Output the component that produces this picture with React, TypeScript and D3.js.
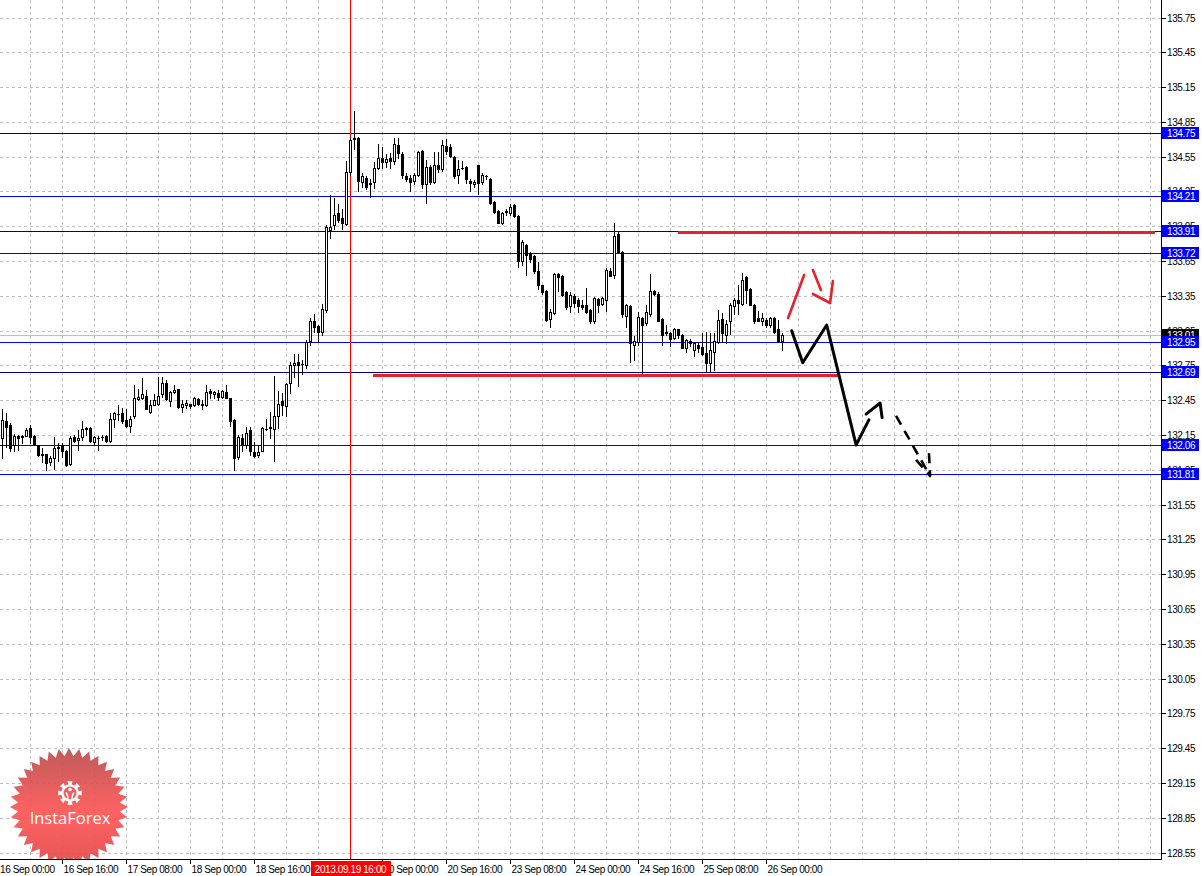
import React from "react";
import * as d3 from "d3";

const W = 1202;
const H = 876;
const AXIS_X = 1161;
const AXIS_Y = 859;

// H1 bars, bar 0 = 16 Sep 00:00; data starts at bar 1
const firstBar = 1;
const open = [
  132.12,132.27,132.24,132.06,132.14,132.13,132.14,132.21,132.14,132.06,
  131.99,131.99,131.92,131.95,132.05,132.06,132.01,131.90,132.13,132.11,
  132.13,132.21,132.21,132.09,132.12,132.13,132.14,132.10,132.29,132.33,
  132.34,132.28,132.23,132.31,132.46,132.47,132.49,132.35,132.41,132.42,
  132.50,132.60,132.44,132.52,132.55,132.39,132.41,132.42,132.41,132.46,
  132.42,132.41,132.53,132.50,132.51,132.48,132.52,132.47,132.28,131.96,
  132.12,132.06,132.19,132.00,131.98,132.01,132.20,132.21,132.20,132.31,
  132.44,132.40,132.60,132.75,132.78,132.76,132.75,132.96,133.13,133.09,
  133.04,133.23,133.92,133.96,134.06,134.02,133.97,134.42,134.70,134.71,
  134.33,134.37,134.31,134.33,134.45,134.54,134.50,134.54,134.51,134.65,
  134.57,134.38,134.37,134.34,134.39,134.60,134.31,134.46,134.33,134.48,
  134.44,134.64,134.63,134.55,134.39,134.45,134.46,134.34,134.31,134.48,
  134.33,134.38,134.36,134.16,134.08,133.98,134.07,134.06,134.13,134.04,
  133.65,133.79,133.71,133.69,133.56,133.44,133.39,133.15,133.20,133.54,
  133.52,133.38,133.26,133.35,133.31,133.27,133.27,133.23,133.13,133.32,
  133.28,133.31,133.56,133.53,133.88,133.73,133.18,133.26,132.93,132.95,
  133.16,133.12,133.19,133.39,133.37,133.15,133.04,133.03,132.99,133.06,
  133.01,132.90,132.96,132.88,132.93,132.91,132.86,132.77,132.87,132.95,
  133.15,133.01,133.13,133.26,133.31,133.28,133.51,133.41,133.27,133.16,
  133.13,133.14,133.10,133.16,133.06,132.96
];
const high = [
  132.37,132.34,132.25,132.16,132.15,132.15,132.21,132.24,132.15,132.06,
  132.04,131.99,131.97,132.13,132.08,132.08,132.02,132.14,132.15,132.19,
  132.27,132.22,132.22,132.14,132.14,132.15,132.15,132.34,132.35,132.41,
  132.38,132.37,132.31,132.58,132.55,132.64,132.54,132.45,132.50,132.65,
  132.65,132.62,132.53,132.58,132.55,132.45,132.45,132.42,132.48,132.47,
  132.45,132.58,132.55,132.53,132.54,132.54,132.58,132.47,132.29,132.15,
  132.16,132.22,132.22,132.09,132.06,132.22,132.29,132.35,132.66,132.53,
  132.51,132.60,132.78,132.85,132.85,132.80,132.97,133.16,133.19,133.10,
  133.28,133.96,134.22,134.19,134.14,134.10,134.51,134.72,134.94,134.72,
  134.41,134.38,134.36,134.50,134.66,134.63,134.57,134.58,134.71,134.71,
  134.59,134.41,134.39,134.41,134.60,134.61,134.52,134.48,134.59,134.59,
  134.69,134.70,134.66,134.56,134.52,134.51,134.47,134.36,134.35,134.48,
  134.41,134.39,134.37,134.17,134.09,134.07,134.10,134.14,134.14,134.05,
  133.83,133.80,133.73,133.70,133.64,133.44,133.40,133.24,133.55,133.55,
  133.53,133.39,133.38,133.37,133.33,133.31,133.42,133.24,133.34,133.33,
  133.34,133.59,133.59,133.98,133.90,133.74,133.28,133.27,133.00,133.21,
  133.17,133.27,133.54,133.40,133.38,133.16,133.10,133.04,133.07,133.06,
  133.02,132.98,132.98,132.95,132.95,133.03,133.04,133.03,133.03,133.23,
  133.20,133.14,133.29,133.33,133.44,133.55,133.52,133.42,133.28,133.22,
  133.20,133.16,133.17,133.17,133.14,133.03
];
const low = [
  131.95,132.05,132.01,132.01,132.02,132.08,132.14,132.08,132.06,131.97,
  131.92,131.85,131.89,131.86,131.93,131.96,131.88,131.89,132.09,132.02,
  132.11,132.15,132.09,132.07,132.02,132.11,132.09,132.09,132.22,132.28,
  132.25,132.22,132.18,132.30,132.45,132.46,132.37,132.34,132.41,132.41,
  132.48,132.45,132.40,132.51,132.38,132.35,132.38,132.38,132.40,132.41,
  132.37,132.40,132.47,132.47,132.45,132.47,132.47,132.23,131.85,131.94,
  132.01,132.04,131.98,131.96,131.96,132.01,132.19,132.12,131.93,132.21,
  132.32,132.31,132.51,132.65,132.57,132.68,132.73,132.93,133.04,132.95,
  133.01,133.21,133.85,133.93,133.99,133.93,133.96,134.39,134.62,134.25,
  134.29,134.27,134.20,134.28,134.44,134.45,134.46,134.45,134.49,134.54,
  134.37,134.34,134.25,134.31,134.38,134.28,134.15,134.31,134.32,134.42,
  134.43,134.57,134.55,134.37,134.32,134.44,134.32,134.25,134.29,134.23,
  134.31,134.36,134.14,134.06,133.98,133.97,134.05,134.05,134.03,133.60,
  133.62,133.53,133.64,133.55,133.41,133.37,133.13,133.08,133.19,133.39,
  133.35,133.24,133.21,133.25,133.21,133.24,133.20,133.12,133.12,133.21,
  133.27,133.22,133.52,133.50,133.73,133.17,133.08,132.78,132.80,132.93,
  132.68,133.10,133.18,133.36,133.13,132.93,133.01,132.92,132.98,132.99,
  132.90,132.87,132.92,132.83,132.87,132.84,132.69,132.70,132.71,132.94,
  132.95,132.94,133.02,133.19,133.19,133.27,133.29,133.27,133.12,133.13,
  133.10,133.08,133.08,133.03,132.95,132.88
];
const close = [
  132.28,132.22,132.04,132.14,132.12,132.14,132.19,132.13,132.07,131.98,
  131.98,131.91,131.95,132.04,132.04,132.01,131.89,132.12,132.10,132.12,
  132.20,132.20,132.10,132.13,132.12,132.13,132.10,132.29,132.34,132.33,
  132.27,132.23,132.29,132.47,132.48,132.50,132.37,132.41,132.45,132.49,
  132.60,132.46,132.52,132.54,132.39,132.42,132.43,132.40,132.47,132.42,
  132.41,132.52,132.51,132.52,132.48,132.53,132.47,132.27,131.95,132.13,
  132.06,132.17,132.01,131.97,132.00,132.21,132.20,132.22,132.31,132.42,
  132.41,132.59,132.75,132.77,132.75,132.76,132.95,133.13,133.08,133.04,
  133.24,133.94,133.94,134.05,134.00,133.98,134.42,134.69,134.71,134.34,
  134.38,134.29,134.32,134.45,134.54,134.50,134.53,134.51,134.66,134.58,
  134.39,134.36,134.33,134.39,134.59,134.31,134.46,134.33,134.48,134.44,
  134.65,134.60,134.56,134.38,134.44,134.45,134.36,134.32,134.33,134.32,
  134.39,134.38,134.15,134.07,133.98,134.06,134.08,134.12,134.04,133.65,
  133.81,133.70,133.67,133.56,133.44,133.38,133.14,133.21,133.54,133.51,
  133.36,133.25,133.36,133.29,133.26,133.25,133.21,133.13,133.33,133.27,
  133.33,133.57,133.52,133.87,133.73,133.19,133.27,132.94,132.96,133.17,
  133.10,133.21,133.39,133.37,133.13,133.01,133.03,132.98,133.06,133.01,
  132.90,132.97,132.94,132.94,132.90,132.85,132.77,132.88,132.96,133.14,
  133.03,133.11,133.27,133.31,133.29,133.49,133.40,133.27,133.13,133.13,
  133.16,133.10,133.16,133.04,132.96,133.01
];

const priceTicks = d3.range(25).map((i) => +(128.55 + 0.3 * i).toFixed(2));
const timeLabelBars = [0, 16, 32, 48, 64, 96, 112, 128, 144, 160, 176, 192];
const timeLabels = [
  "16 Sep 00:00", "16 Sep 16:00", "17 Sep 08:00", "18 Sep 00:00", "18 Sep 16:00",
  "20 Sep 00:00", "20 Sep 16:00", "23 Sep 08:00", "24 Sep 00:00",
  "24 Sep 16:00", "25 Sep 08:00", "26 Sep 00:00",
];
const markerBar = 88;
const markerLabel = "2013.09.19 16:00";

const levelPrices = [134.75, 134.21, 133.91, 133.72, 132.95, 132.69, 132.06, 131.81];
const levelColors = ["#00008c", "#0000ff", "#00008c", "#0000ff", "#0000ff", "#00008c", "#0000ff", "#0000ff"];

// thick red horizontal segments: [price, fromBar, toBar]
const redSegPrices = [133.898, 132.661];
const redSegFrom = [169.9, 93.7];
const redSegTo = [289.1, 209.9];

// hand-drawn forecast strokes as [bar, price]
const redStrokes: [number, number][][] = [
  [[197.4, 133.159], [201.4, 133.53]],
  [[203.6, 133.573], [205.6, 133.401]],
  [[203.6, 133.366], [207.9, 133.288], [208.6, 133.478]],
];
const blackStrokes: [number, number][][] = [
  [[198.3, 133.049], [201.05, 132.773], [207.05, 133.098], [214.4, 132.064], [217.6, 132.28]],
  [[216.9, 132.33], [220.4, 132.426], [220.9, 132.30]],
];
const blackDashed: [number, number][][] = [
  [[224.4, 132.314], [232.9, 131.797]],
  [[229.4, 131.935], [232.9, 131.797], [232.6, 132.004]],
];

const FONT = "'Liberation Sans', Arial, sans-serif";

function Logo({ cx, cy }: { cx: number; cy: number }) {
  const n = 36;
  const R = 59;
  const r = 51;
  const pts = d3.range(n * 2).map((i) => {
    const a = (Math.PI * i) / n - Math.PI / 2;
    const rr = i % 2 === 0 ? R : r;
    return [cx + rr * Math.cos(a), cy + rr * Math.sin(a)];
  });
  const star = "M" + pts.map((p) => p.join(",")).join("L") + "Z";
  const gx = cx + 1;
  const gy = cy - 14;
  const teeth = 8;
  const gearPts: number[][] = [];
  for (let i = 0; i < teeth; i++) {
    const a0 = (2 * Math.PI * i) / teeth;
    const w = 0.22;
    gearPts.push([gx + 9 * Math.cos(a0 - 0.39 + w), gy + 9 * Math.sin(a0 - 0.39 + w)]);
    gearPts.push([gx + 12 * Math.cos(a0 - w), gy + 12 * Math.sin(a0 - w)]);
    gearPts.push([gx + 12 * Math.cos(a0 + w), gy + 12 * Math.sin(a0 + w)]);
    gearPts.push([gx + 9 * Math.cos(a0 + 0.39 - w), gy + 9 * Math.sin(a0 + 0.39 - w)]);
  }
  const gear = "M" + gearPts.map((p) => p.join(",")).join("L") + "Z";
  return (
    <g opacity={0.9}>
      <defs>
        <linearGradient id="lg" x1="0" y1="0" x2="0" y2="1">
          <stop offset="0" stopColor="#b84a48" />
          <stop offset="0.55" stopColor="#ff5252" />
          <stop offset="1" stopColor="#e24444" />
        </linearGradient>
      </defs>
      <path d={star} fill="url(#lg)" />
      <path d={gear} fill="#ffffff" />
      <circle cx={gx} cy={gy} r={6.5} fill="#e85050" />
      <circle cx={gx} cy={gy - 3.5} r={1.8} fill="#ffffff" />
      <path d={`M${gx - 3.5},${gy - 1} Q${gx - 1.5},${gy + 1} ${gx - 1.2},${gy + 7} L${gx - 2.6},${gy + 7} Q${gx - 3},${gy + 2} ${gx - 4.5},${gy} Z`} fill="#fff" />
      <path d={`M${gx + 3.5},${gy - 1} Q${gx + 1.5},${gy + 1} ${gx + 1.2},${gy + 7} L${gx + 2.6},${gy + 7} Q${gx + 3},${gy + 2} ${gx + 4.5},${gy} Z`} fill="#fff" />
      <text x={cx + 1} y={cy + 17} textAnchor="middle" fill="#ffffff" fontFamily="'Open Sans', 'Liberation Sans', sans-serif" fontSize={16.5}>
        InstaForex
      </text>
    </g>
  );
}

export default function App() {
  const x = d3.scaleLinear().domain([0, 1]).range([-2, 2]);
  const y = d3.scaleLinear().domain([128.55, 135.75]).range([852.5, 17.5]);
  const cx = (b: number) => x(b) + 0.5;
  const sy = (p: number) => Math.round(y(p)) + 0.5;

  const gridXs = d3.range(1, 37).map((n) => cx(n * 8));
  const line = d3
    .line<[number, number]>()
    .x((d) => cx(d[0]))
    .y((d) => y(d[1]));

  const bid = close[close.length - 1];

  const candles = open.map((o, k) => {
    const b = firstBar + k;
    const c = close[k];
    const hx = cx(b);
    const top = sy(Math.max(o, c));
    const bot = sy(Math.min(o, c));
    const bull = c >= o;
    return (
      <g key={k}>
        <line x1={hx} x2={hx} y1={sy(high[k]) - 0.5} y2={sy(low[k]) + 0.5} stroke="#000" strokeWidth={1} />
        {bot - top >= 1 ? (
          <rect x={x(b) - 0.5} y={top} width={2} height={bot - top} fill={bull ? "#fff" : "#000"} stroke="#000" strokeWidth={1} />
        ) : (
          <line x1={x(b) - 1} x2={x(b) + 2} y1={top} y2={top} stroke="#000" strokeWidth={1} />
        )}
      </g>
    );
  });

  return (
    <svg
      width={W}
      height={H}
      style={{ position: "absolute", left: 0, top: 0, background: "#fff", display: "block" }}
      shapeRendering="crispEdges"
    >
      <rect x={0} y={0} width={W} height={H} fill="#fff" />
      {/* grid */}
      <g stroke="#c0c0c0" strokeWidth={1} strokeDasharray="3,3">
        {priceTicks.map((p) => (
          <line key={"h" + p} x1={0} x2={AXIS_X} y1={sy(p)} y2={sy(p)} />
        ))}
        {gridXs.map((gx) => (
          <line key={"v" + gx} x1={gx} x2={gx} y1={0} y2={AXIS_Y} />
        ))}
      </g>

      {/* bid line */}
      <line x1={0} x2={AXIS_X} y1={sy(bid)} y2={sy(bid)} stroke="#c0c0c0" strokeWidth={1} />

      {/* level lines */}
      {levelPrices.map((p, i) => (
        <line key={"l" + p} x1={0} x2={AXIS_X} y1={sy(p)} y2={sy(p)} stroke={levelColors[i]} strokeWidth={1} />
      ))}

      {/* vertical marker */}
      <line x1={cx(markerBar)} x2={cx(markerBar)} y1={0} y2={AXIS_Y} stroke="#ff0000" strokeWidth={1} />

      {/* candles */}
      <g>{candles}</g>

      {/* red thick segments */}
      {redSegPrices.map((p, i) => (
        <line key={"rs" + i} x1={cx(redSegFrom[i])} x2={cx(redSegTo[i])} y1={y(p)} y2={y(p)} stroke="#e8202a" strokeWidth={3} />
      ))}

      {/* forecast strokes */}
      <g fill="none" shapeRendering="auto" strokeLinecap="round" strokeLinejoin="round">
        {redStrokes.map((s, i) => (
          <path key={"r" + i} d={line(s) || ""} stroke="#e8202a" strokeWidth={2.6} />
        ))}
        {blackStrokes.map((s, i) => (
          <path key={"b" + i} d={line(s) || ""} stroke="#000" strokeWidth={3} />
        ))}
        {blackDashed.map((s, i) => (
          <path key={"d" + i} d={line(s) || ""} stroke="#000" strokeWidth={2.6} strokeDasharray="10,7" strokeLinecap="butt" />
        ))}
      </g>

      <g shapeRendering="auto">
        <Logo cx={69} cy={807} />
      </g>

      {/* axes */}
      <rect x={AXIS_X + 1} y={0} width={W - AXIS_X - 1} height={H} fill="#fff" />
      <rect x={0} y={AXIS_Y + 1} width={W} height={H - AXIS_Y - 1} fill="#fff" />
      <line x1={AXIS_X + 0.5} x2={AXIS_X + 0.5} y1={0} y2={AXIS_Y + 1} stroke="#000" strokeWidth={1} />
      <line x1={0} x2={AXIS_X + 1} y1={AXIS_Y + 0.5} y2={AXIS_Y + 0.5} stroke="#000" strokeWidth={1} />

      {/* price ticks & labels */}
      <g fontFamily={FONT} fontSize={10} letterSpacing={-0.4} fill="#000" shapeRendering="auto">
        {priceTicks.map((p) => (
          <g key={"pt" + p}>
            <line x1={AXIS_X + 1} x2={AXIS_X + 5} y1={sy(p)} y2={sy(p)} stroke="#000" shapeRendering="crispEdges" />
            <text x={1167} y={sy(p) + 3.5}>{p.toFixed(2)}</text>
          </g>
        ))}
      </g>

      {/* bid label */}
      <g fontFamily={FONT} fontSize={10} letterSpacing={-0.4}>
        <rect x={AXIS_X + 1} y={sy(bid) - 6.5} width={37} height={12} fill="#000" />
        <text x={1167} y={sy(bid) + 3.5} fill="#fff">{bid.toFixed(2)}</text>
      </g>

      {/* level labels */}
      <g fontFamily={FONT} fontSize={10} letterSpacing={-0.4}>
        {levelPrices.map((p) => (
          <g key={"ll" + p}>
            <rect x={AXIS_X + 1} y={sy(p) - 6.5} width={37} height={12} fill="#0000ff" />
            <text x={1167} y={sy(p) + 3.5} fill="#fff">{p.toFixed(2)}</text>
          </g>
        ))}
      </g>

      {/* time ticks & labels */}
      <g fontFamily={FONT} fontSize={10} letterSpacing={-0.4} fill="#000">
        {timeLabelBars.map((b, i) => (
          <g key={"tl" + b}>
            <line x1={cx(b)} x2={cx(b)} y1={AXIS_Y + 1} y2={AXIS_Y + 5} stroke="#000" />
            <text x={Math.max(0, cx(b) + 1)} y={873}>{timeLabels[i]}</text>
          </g>
        ))}
        <rect x={cx(markerBar) - 39.5} y={861} width={80} height={15} fill="#ff0000" />
        <text x={cx(markerBar)} y={873} textAnchor="middle" fill="#fff">{markerLabel}</text>
      </g>
    </svg>
  );
}
